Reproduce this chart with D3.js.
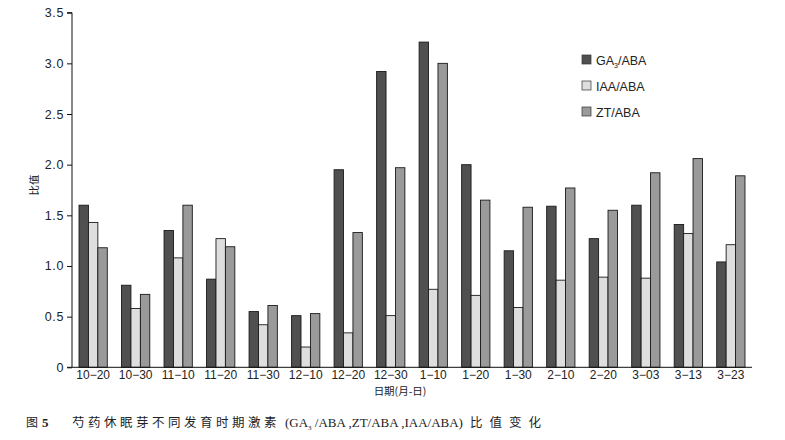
<!DOCTYPE html>
<html>
<head>
<meta charset="utf-8">
<script src="https://cdn.jsdelivr.net/npm/d3@7"></script>
<style>
body { margin: 0; background: #fff; }
svg { display: block; }
</style>
</head>
<body>
<svg id="chart" width="785" height="440"></svg>
<script>
// data
var dates = ["10−20", "10−30", "11−10", "11−20", "11−30", "12−10", "12−20", "12−30", "1−10", "1−20", "1−30", "2−10", "2−20", "3−03", "3−13", "3−23"];
var ga3 = [1.60, 0.81, 1.35, 0.87, 0.55, 0.51, 1.95, 2.92, 3.21, 2.00, 1.15, 1.59, 1.27, 1.60, 1.41, 1.04];
var iaa = [1.43, 0.58, 1.08, 1.27, 0.42, 0.20, 0.34, 0.51, 0.77, 0.71, 0.59, 0.86, 0.89, 0.88, 1.32, 1.21];
var zt  = [1.18, 0.72, 1.60, 1.19, 0.61, 0.53, 1.33, 1.97, 3.00, 1.65, 1.58, 1.77, 1.55, 1.92, 2.06, 1.89];
var seriesNames = ["GA3/ABA", "IAA/ABA", "ZT/ABA"];
var yTicks = [0, 0.5, 1.0, 1.5, 2.0, 2.5, 3.0, 3.5];

var colors = ["#505050", "#dedede", "#9a9a9a"];
var svg = d3.select("#chart");
var mLeft = 72, mRight = 752, mTop = 12.7, mBottom = 367.3;
var sans = "Liberation Sans, Arial, sans-serif";
var cjk = "Noto Sans CJK SC";

var x = d3.scaleBand().domain(dates).range([mLeft, mRight]).paddingInner(0.335).paddingOuter(0.165);
var xs = d3.scaleBand().domain([0, 1, 2]).range([0, x.bandwidth()]);
var y = d3.scaleLinear().domain([0, 3.5]).range([mBottom, mTop]);

var rows = dates.map(function(d, i) { return { date: d, vals: [ga3[i], iaa[i], zt[i]] }; });

var groups = svg.selectAll(".grp").data(rows).enter().append("g")
  .attr("class", "grp")
  .attr("transform", function(d) { return "translate(" + x(d.date) + ",0)"; });

groups.selectAll("rect").data(function(d) { return d.vals; }).enter().append("rect")
  .attr("x", function(d, i) { return xs(i); })
  .attr("y", function(d) { return y(d); })
  .attr("width", xs.bandwidth())
  .attr("height", function(d) { return y(0) - y(d); })
  .attr("fill", function(d, i) { return colors[i]; })
  .attr("stroke", "#1a1a1a").attr("stroke-width", 0.9);

// y axis
var yAxis = d3.axisLeft(y).tickValues(yTicks).tickSize(5).tickPadding(3)
  .tickFormat(function(d) { return d === 0 ? "0" : d3.format(".1f")(d); });
var gy = svg.append("g").attr("transform", "translate(" + mLeft + ",0)").call(yAxis);
gy.select(".domain").attr("stroke", "#111").attr("d", "M-5," + mTop + "H0V" + mBottom);
gy.selectAll("line").attr("stroke", "#111");
gy.selectAll("text").attr("font-family", sans).attr("font-size", 12.5).attr("letter-spacing", 0.6).attr("fill", "#222");

// x axis
var xAxis = d3.axisBottom(x).tickSize(0).tickPadding(3);
var gx = svg.append("g").attr("transform", "translate(0," + mBottom + ")").call(xAxis);
gx.select(".domain").attr("stroke", "#111").attr("d", "M" + (mLeft - 5) + ",0H" + mRight);
gx.selectAll("text").attr("font-family", sans).attr("font-size", 12).attr("fill", "#222");

// axis titles
svg.append("text").attr("x", 400).attr("y", 395).attr("text-anchor", "middle")
  .attr("font-family", cjk).attr("font-size", 10.5).attr("fill", "#222").text("日期(月-日)");
svg.append("text").attr("transform", "translate(38,185) rotate(-90)").attr("text-anchor", "middle")
  .attr("font-family", cjk).attr("font-size", 10.5).attr("fill", "#222").text("比值");

// legend
var lg = svg.append("g").attr("transform", "translate(582,0)");
var items = lg.selectAll("g").data(seriesNames).enter().append("g")
  .attr("transform", function(d, i) { return "translate(0," + (60 + i * 26) + ")"; });
items.append("rect").attr("x", 0).attr("y", -5).attr("width", 9).attr("height", 9)
  .attr("fill", function(d, i) { return colors[i]; }).attr("stroke", "#333").attr("stroke-width", 0.7);
var lt = items.append("text").attr("x", 14).attr("y", 4.5)
  .attr("font-family", sans).attr("font-size", 12.5).attr("fill", "#222");
lt.each(function(d) {
  var t = d3.select(this);
  if (d === "GA3/ABA") {
    t.append("tspan").text("GA");
    t.append("tspan").attr("font-size", 7).attr("dy", 3).text("3");
    t.append("tspan").attr("dy", -3).text("/ABA");
  } else {
    t.text(d);
  }
});

// caption
var cap = svg.append("text").attr("x", 26).attr("y", 427)
  .attr("font-family", "Liberation Serif").attr("font-size", 13).attr("fill", "#222");
cap.append("tspan").attr("font-family", cjk).attr("font-size", 12).text("图");
cap.append("tspan").attr("x", 42).attr("font-weight", "bold").text("5");
cap.append("tspan").attr("x", 72).attr("font-family", cjk).attr("font-size", 12.5).attr("letter-spacing", 3.5).text("芍药休眠芽不同发育时期激素");
cap.append("tspan").attr("x", 285).text("(GA");
cap.append("tspan").attr("font-size", 7).attr("dy", 3).text("3");
cap.append("tspan").attr("dy", -3).text(" /ABA ,ZT/ABA ,IAA/ABA)");
cap.append("tspan").attr("x", 470).attr("font-family", cjk).attr("font-size", 12.5).attr("letter-spacing", 7).text("比值变化");
</script>
</body>
</html>
